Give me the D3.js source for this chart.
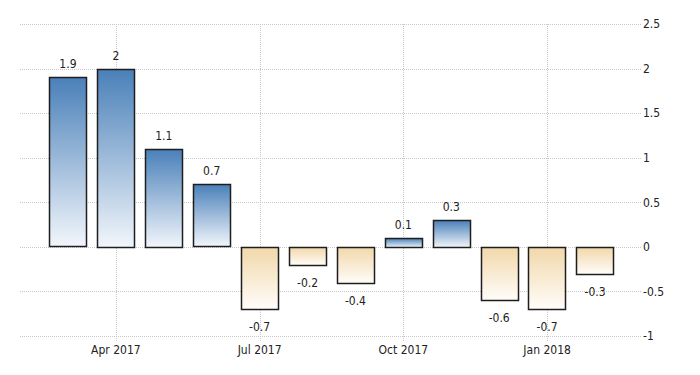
<!DOCTYPE html>
<html>
<head>
<meta charset="utf-8">
<script src="https://cdn.jsdelivr.net/npm/d3@7"></script>
<style>
  body { margin: 0; background: #fff; }
  text { font-family: "DejaVu Sans Condensed", "Liberation Sans Narrow", "Liberation Sans", Arial, sans-serif; fill: #222; }
</style>
</head>
<body>
<svg id="chart" width="700" height="375"></svg>
<script>
let months = ["Mar 2017","Apr 2017","May 2017","Jun 2017","Jul 2017","Aug 2017",
              "Sep 2017","Oct 2017","Nov 2017","Dec 2017","Jan 2018","Feb 2018"];
let values = [1.9, 2, 1.1, 0.7, -0.7, -0.2, -0.4, 0.1, 0.3, -0.6, -0.7, -0.3];
let yTicks = [2.5, 2, 1.5, 1, 0.5, 0, -0.5, -1];
let xTickLabels = ["Apr 2017", "Jul 2017", "Oct 2017", "Jan 2018"];

let width = 700, height = 375;
let svg = d3.select("#chart");

let x = d3.scaleBand()
    .domain(months)
    .range([44, 619])
    .paddingInner(0.22)
    .paddingOuter(0.11);

let y = d3.scaleLinear()
    .domain([-1, 2.5])
    .range([336, 24]);

// gradients
let defs = svg.append("defs");
let pos = defs.append("linearGradient").attr("id", "gradPos")
    .attr("x1", 0).attr("y1", 0).attr("x2", 0).attr("y2", 1);
pos.append("stop").attr("offset", "0%").attr("stop-color", "#4a80b9");
pos.append("stop").attr("offset", "100%").attr("stop-color", "#f2f6fb");

let neg = defs.append("linearGradient").attr("id", "gradNeg")
    .attr("x1", 0).attr("y1", 0).attr("x2", 0).attr("y2", 1);
neg.append("stop").attr("offset", "0%").attr("stop-color", "#f2d8ab");
neg.append("stop").attr("offset", "100%").attr("stop-color", "#fffdfa");

// horizontal grid
svg.append("g")
    .selectAll("line")
    .data(yTicks)
    .enter().append("line")
    .attr("x1", 20)
    .attr("x2", 641)
    .attr("y1", d => Math.round(y(d)) + 0.5)
    .attr("y2", d => Math.round(y(d)) + 0.5)
    .attr("stroke", "#c8c8c8")
    .attr("stroke-width", 1)
    .attr("stroke-dasharray", "1,1");

// vertical grid
svg.append("g")
    .selectAll("line")
    .data(xTickLabels)
    .enter().append("line")
    .attr("x1", d => Math.round(x(d) + x.bandwidth()/2) + 0.5)
    .attr("x2", d => Math.round(x(d) + x.bandwidth()/2) + 0.5)
    .attr("y1", 24)
    .attr("y2", 342)
    .attr("stroke", "#c8c8c8")
    .attr("stroke-width", 1)
    .attr("stroke-dasharray", "1,1");

// right axis labels
let yAxis = d3.axisRight(y)
    .tickValues(yTicks)
    .tickSize(0)
    .tickPadding(0)
    .tickFormat(d => d3.format("")(d).replace("−", "-"));

svg.append("g")
    .attr("class", "y axis")
    .attr("transform", "translate(643,0)")
    .call(yAxis)
    .call(g => g.select(".domain").remove())
    .selectAll("text")
    .style("font-size", "12px")
    .attr("fill", "#222");

// bottom axis labels
let xAxis = d3.axisBottom(x)
    .tickValues(xTickLabels)
    .tickSize(0)
    .tickPadding(0);

svg.append("g")
    .attr("class", "x axis")
    .attr("transform", "translate(0,345)")
    .call(xAxis)
    .call(g => g.select(".domain").remove())
    .selectAll("text")
    .style("font-size", "12px")
    .attr("fill", "#222");

// bars
svg.append("g")
    .selectAll("rect")
    .data(values)
    .enter().append("rect")
    .attr("x", (d, i) => Math.round(x(months[i])) + 0.5)
    .attr("y", d => Math.round(y(Math.max(d, 0))) + 0.5)
    .attr("width", Math.round(x.bandwidth()))
    .attr("height", d => Math.round(Math.abs(y(d) - y(0))))
    .attr("fill", d => d >= 0 ? "url(#gradPos)" : "url(#gradNeg)")
    .attr("stroke", "#1e1e1e")
    .attr("stroke-width", 1.5);

// value labels
svg.append("g")
    .selectAll("text")
    .data(values)
    .enter().append("text")
    .attr("x", (d, i) => x(months[i]) + x.bandwidth()/2)
    .attr("y", d => d >= 0 ? y(d) - 9 : y(d) + 22)
    .style("text-anchor", "middle")
    .style("font-size", "12px")
    .text(d => String(d));
</script>
</body>
</html>
